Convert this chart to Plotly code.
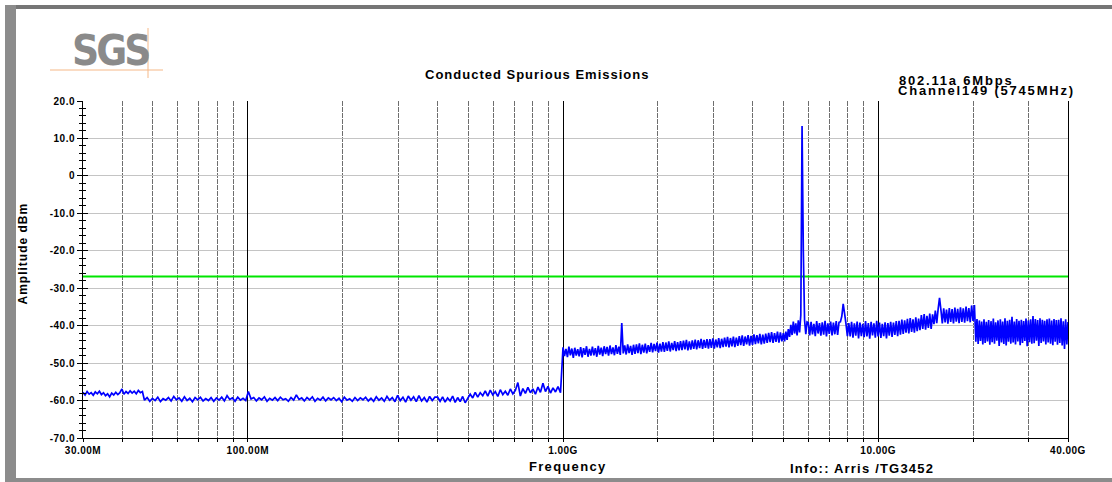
import numpy as np
import plotly.graph_objects as go

# ---------------- data ----------------
lvl_30M_47M = [-57.8, -58.5, -57.6, -58.3, -57.9, -58.6, -57.7, -58.2, -57.5, -58.4,
               -57.9, -58.7, -58.2, -59.0, -58.0, -58.5, -57.8, -58.4, -57.9, -56.9,
               -58.3, -57.6, -58.1, -57.4, -58.0, -57.5, -58.2, -57.3, -57.9, -57.6]

lvl_47M_400M = [-59.9, -59.2, -60.2, -59.4, -60.0, -59.1, -60.3, -59.5, -59.9, -59.2,
                -60.1, -58.9, -59.8, -59.3, -60.2, -59.0, -60.0, -59.4, -60.3, -59.2,
                -59.8, -59.1, -60.1, -59.5, -60.0, -59.2, -60.2, -59.3, -59.9, -59.1,
                -60.1, -58.7, -59.7, -59.3, -60.2, -59.1, -59.9, -59.4, -60.0, -57.6,
                -59.6, -59.2, -60.1, -59.3, -59.8, -59.0, -60.2, -59.4, -59.9, -59.2,
                -60.0, -59.1, -59.8, -59.5, -60.2, -59.2, -59.9, -58.5, -59.7, -59.3,
                -60.1, -59.2, -59.8, -59.0, -60.2, -59.4, -59.9, -59.1, -60.1, -59.3,
                -59.8, -59.2, -60.0, -59.4, -60.3, -59.1, -59.9, -59.5, -60.2, -59.2,
                -60.0, -59.3, -59.8, -59.1, -60.1, -59.4, -60.2, -59.0, -59.9, -59.3,
                -60.2, -58.9, -59.9, -59.2, -60.3, -58.6, -60.0, -59.1, -60.4, -58.8,
                -59.9, -59.0, -60.3, -58.7, -60.1, -59.2, -60.4, -58.9, -60.0, -59.1]

lvl_400M_1G = [-59.1, -60.2, -59.0, -60.4, -59.3, -60.1, -58.8, -60.5, -59.2, -60.3,
               -58.9, -60.6, -59.4, -58.3, -59.3, -57.8, -59.1, -57.9, -58.7, -57.4,
               -58.8, -57.2, -58.5, -57.6, -58.9, -57.1, -58.4, -57.5, -58.6, -56.9,
               -58.2, -57.3, -55.2, -58.8, -56.8, -58.1, -56.5, -57.9, -56.9, -58.3,
               -56.4, -57.8, -55.4, -57.6, -56.2, -58.0, -56.6, -57.7, -56.3, -57.9]

lvl_1G_5G = [-45.8, -48.1, -46.2, -48.4, -45.6, -47.9, -46.1, -48.6, -45.9, -48.0,
             -46.3, -48.2, -45.7, -48.5, -46.0, -47.8, -45.5, -48.3, -46.2, -48.0,
             -45.6, -47.9, -46.0, -48.3, -45.4, -47.7, -45.9, -48.1, -45.5, -47.6,
             -45.7, -48.0, -45.3, -47.6, -45.8, -47.9, -45.2, -47.5, -45.6, -47.8,
             -39.3, -47.4, -45.3, -47.7, -45.0, -47.3, -45.4, -47.8, -45.1, -47.5,
             -45.0, -47.3, -44.7, -47.6, -45.1, -47.2, -44.8, -47.4, -45.2, -47.0,
             -44.6, -47.1, -44.9, -46.8, -44.5, -47.2, -44.8, -46.9, -44.4, -47.0,
             -44.5, -46.7, -44.2, -46.9, -44.6, -46.5, -44.1, -46.8, -44.4, -46.6,
             -44.1, -46.5, -44.0, -46.3, -43.8, -46.6, -44.2, -46.4, -43.9, -46.2,
             -43.7, -46.3, -43.9, -46.0, -43.5, -46.2, -43.8, -45.9, -43.6, -46.1,
             -43.6, -45.9, -43.4, -46.1, -43.7, -45.8, -43.3, -46.0, -43.5, -45.7,
             -43.2, -45.6, -43.0, -45.8, -43.3, -45.5, -42.9, -45.7, -43.2, -45.4,
             -42.8, -45.2, -42.6, -45.4, -42.9, -45.0, -42.5, -45.3, -42.7, -45.1,
             -42.3, -44.9, -42.5, -44.7, -42.2, -45.0, -42.4, -44.8, -42.1, -44.6,
             -41.9, -44.4, -41.7, -44.6, -42.0, -44.3, -41.6, -44.5, -41.8, -44.2]

lvl_5G_6G = [-42.0, -44.2, -41.6, -43.8, -40.9, -43.0, -39.8, -42.5, -38.9, -42.1,
             -39.4, -42.6, -38.6, -41.8, -37.2, 13.3, -20.0, -38.5, -42.3, -39.0]

lvl_6G_20G = [-39.2, -42.6, -39.0, -42.3, -39.5, -42.8, -38.8, -42.1, -39.3, -42.7,
              -39.1, -42.4, -38.7, -42.9, -39.4, -42.2, -38.9, -42.6, -39.2, -42.3,
              -38.8, -42.5, -39.1, -39.0, -37.5, -34.2, -36.8, -39.5, -42.8, -39.3,
              -42.9, -39.0, -43.2, -39.4, -42.7, -38.9, -43.4, -39.2, -42.8, -39.5,
              -43.1, -38.8, -42.9, -39.3, -43.5, -39.0, -42.6, -39.4, -43.2, -38.7,
              -42.9, -39.2, -43.3, -39.5, -42.8, -39.1, -43.4, -39.3, -42.7, -39.0,
              -43.0, -39.2, -42.5, -38.8, -42.8, -38.7, -42.4, -38.4, -42.2, -38.6,
              -41.9, -38.2, -42.1, -38.0, -41.7, -38.3, -41.9, -37.8, -41.5, -38.1,
              -41.2, -37.2, -40.9, -36.9, -41.1, -37.4, -40.6, -36.8, -40.9, -37.0,
              -39.6, -36.0, -39.3, -35.6, -32.6, -35.8, -39.4, -35.4, -39.1, -35.7,
              -39.5, -35.3, -39.0, -35.6, -39.4, -35.2, -38.9, -35.5, -39.3, -35.1,
              -39.0, -35.4, -39.2, -34.9, -38.8, -35.3, -39.1, -34.6, -38.7, -34.5]

lvl_20G_40G = [-44.3, -38.2, -44.9, -38.6, -44.1, -38.9, -45.0, -38.3, -44.6, -39.0,
               -44.2, -38.5, -45.1, -38.8, -44.4, -38.1, -44.8, -39.1, -44.0, -38.6,
               -45.4, -38.3, -44.5, -38.9, -44.9, -38.0, -45.3, -38.7, -44.3, -38.4,
               -44.8, -37.6, -44.5, -38.9, -45.0, -38.2, -44.2, -38.7, -45.2, -38.4,
               -44.6, -38.8, -44.1, -38.1, -45.5, -38.6, -44.4, -38.3, -44.8, -37.4,
               -44.7, -38.2, -44.0, -38.5, -45.4, -38.0, -44.6, -38.4, -44.2, -38.7,
               -45.0, -38.3, -44.5, -38.1, -44.8, -38.6, -45.2, -38.2, -44.3, -38.5,
               -45.1, -38.4, -44.6, -38.0, -45.3, -38.8, -46.2, -38.3, -45.0, -39.0]

# sweep segments: (start Hz, stop Hz, levels)
sweep_segments = [
    (30e6, 47e6, lvl_30M_47M),
    (47e6, 400e6, lvl_47M_400M),
    (400e6, 1e9, lvl_400M_1G),
    (1e9, 5e9, lvl_1G_5G),
    (5e9, 6e9, lvl_5G_6G),
    (6e9, 20.4e9, lvl_6G_20G),
    (20.4e9, 40e9, lvl_20G_40G),
]

limit_dbm = -26.9
f_start, f_stop = 30e6, 40e9
y_min, y_max = -70, 20

x_minor_vals = [m * 10 ** e for e in (7, 8, 9, 10) for m in range(1, 10)
                if f_start <= m * 10 ** e <= f_stop]
x_label_map = {30e6: "30.00M", 100e6: "100.00M", 1e9: "1.00G", 10e9: "10.00G", 40e9: "40.00G"}
x_major_vals = [100e6, 1e9, 10e9]
y_tick_vals = [20, 10, 0, -10, -20, -30, -40, -50, -60, -70]
y_tick_text = ["20.0", "10.0", "0", "-10.0", "-20.0", "-30.0", "-40.0", "-50.0", "-60.0", "-70.0"]

# ---------------- build trace ----------------
freqs, levels = [], []
for i, (f0, f1, vals) in enumerate(sweep_segments):
    last = i == len(sweep_segments) - 1
    freqs.extend(np.geomspace(f0, f1, len(vals), endpoint=last))
    levels.extend(vals)

FONT = "Liberation Sans, Arial, Helvetica, sans-serif"
W, H = 1112, 482
ML, MR, MT, MB = 83, 44, 101, 44
PW, PH = W - ML - MR, H - MT - MB


def px(x):
    return (x - ML) / PW


def py(y):
    return (H - MB - y) / PH


def sp(text, ls):
    return f'<span style="letter-spacing:{ls}px">{text}</span>'


x_tick_vals = sorted(set(x_minor_vals) | set(x_label_map))
x_tick_text = [sp(x_label_map[v], 0.5) if v in x_label_map else "" for v in x_tick_vals]

fig = go.Figure()
fig.add_trace(go.Scatter(x=[f_start, f_stop], y=[limit_dbm, limit_dbm], mode="lines",
                         line=dict(color="#00e600", width=2), xaxis="x", yaxis="y",
                         hoverinfo="skip", showlegend=False))
fig.add_trace(go.Scatter(x=freqs, y=levels, mode="lines",
                         line=dict(color="#0000ff", width=1.7, simplify=False),
                         xaxis="x2", yaxis="y2", showlegend=False))

rng_x = [np.log10(f_start), np.log10(f_stop)]
tickfont = dict(family=FONT, size=10, color="black", weight="bold")

fig.update_layout(
    width=W, height=H, autosize=False,
    margin=dict(l=ML, r=MR, t=MT, b=MB, pad=0),
    paper_bgcolor="white", plot_bgcolor="white",
    font=dict(family=FONT, color="black"),
    showlegend=False,
    xaxis=dict(type="log", range=rng_x, tickmode="array", tickvals=x_tick_vals,
               ticktext=x_tick_text, tickfont=tickfont, tickangle=0,
               showgrid=True, gridcolor="#6e6e6e", gridwidth=1, griddash="5px,1px",
               ticks="outside", ticklen=3, tickcolor="black", tickwidth=1,
               showline=True, linecolor="black", linewidth=1, mirror=False,
               zeroline=False),
    xaxis2=dict(type="log", range=rng_x, overlaying="x", tickmode="array",
                tickvals=x_major_vals, showticklabels=False, ticks="",
                showgrid=True, gridcolor="#000000", gridwidth=1,
                showline=False, zeroline=False),
    yaxis=dict(range=[y_min, y_max], tickmode="array", tickvals=y_tick_vals,
               ticktext=[sp(t, 0.5) for t in y_tick_text], tickfont=tickfont,
               showgrid=True, gridcolor="#c4c4c4", gridwidth=1,
               ticks="outside", ticklen=5, tickcolor="black", tickwidth=1,
               minor=dict(dtick=2, tick0=0, ticks="outside", ticklen=3,
                          tickcolor="black", showgrid=False),
               showline=True, linecolor="black", linewidth=1, mirror=True,
               zeroline=False),
    yaxis2=dict(range=[y_min, y_max], overlaying="y", side="left", anchor="x2",
                tickmode="array", tickvals=y_tick_vals, showticklabels=False,
                ticks="inside", ticklen=5, tickcolor="black", tickwidth=1,
                minor=dict(dtick=2, tick0=0, ticks="inside", ticklen=3,
                           tickcolor="black", showgrid=False),
                showgrid=False, showline=False, zeroline=False),
)

ann = []
ann.append(dict(text=sp("Conducted Spurious Emissions", 1), x=px(537), y=py(74),
                xref="paper", yref="paper", xanchor="center", yanchor="middle",
                showarrow=False, font=dict(family=FONT, size=13, weight="bold", color="black")))
ann.append(dict(text=sp("802.11a 6Mbps", 1.8), x=px(897), y=py(81),
                xref="paper", yref="paper", xanchor="left", yanchor="middle",
                showarrow=False, font=dict(family=FONT, size=13, weight="bold", color="black")))
ann.append(dict(text=sp("Channel149 (5745MHz)", 1.8), x=px(896), y=py(90),
                xref="paper", yref="paper", xanchor="left", yanchor="middle",
                showarrow=False, font=dict(family=FONT, size=13, weight="bold", color="black")))
ann.append(dict(text=sp("Amplitude dBm", 1), x=px(22.5), y=py(254), textangle=-90,
                xref="paper", yref="paper", xanchor="center", yanchor="middle",
                showarrow=False, font=dict(family=FONT, size=12, weight="bold", color="black")))
ann.append(dict(text=sp("Frequency", 1.3), x=px(567.5), y=py(466),
                xref="paper", yref="paper", xanchor="center", yanchor="middle",
                showarrow=False, font=dict(family=FONT, size=13, weight="bold", color="black")))
ann.append(dict(text=sp("Info:: Arris /TG3452", 1.2), x=px(788), y=py(468),
                xref="paper", yref="paper", xanchor="left", yanchor="middle",
                showarrow=False, font=dict(family=FONT, size=13, weight="bold", color="black")))
ann.append(dict(text=sp("SGS", -3), x=px(110), y=py(51), xref="paper", yref="paper",
                xanchor="center", yanchor="middle", showarrow=False,
                font=dict(family="DejaVu Sans Condensed, Liberation Sans Narrow, sans-serif",
                          size=42, weight="bold", color="#8a8a8a")))
fig.update_layout(annotations=ann)

shapes = []
# logo guide lines
shapes.append(dict(type="line", xref="paper", yref="paper", x0=px(50), x1=px(163),
                   y0=py(70), y1=py(70), line=dict(color="#f5b887", width=1)))
shapes.append(dict(type="line", xref="paper", yref="paper", x0=px(148), x1=px(148),
                   y0=py(28), y1=py(78), line=dict(color="#f5b887", width=1)))
# page frame
shapes.append(dict(type="rect", xref="paper", yref="paper", x0=px(5), x1=px(W),
                   y0=py(9), y1=py(5), fillcolor="#767676", line=dict(width=0)))
shapes.append(dict(type="rect", xref="paper", yref="paper", x0=px(5), x1=px(16),
                   y0=py(H), y1=py(5), fillcolor="#8c8c8c", line=dict(width=0)))
shapes.append(dict(type="rect", xref="paper", yref="paper", x0=px(5), x1=px(W),
                   y0=py(H), y1=py(478), fillcolor="#8c8c8c", line=dict(width=0)))
fig.update_layout(shapes=shapes)

fig.write_html("out.html")
